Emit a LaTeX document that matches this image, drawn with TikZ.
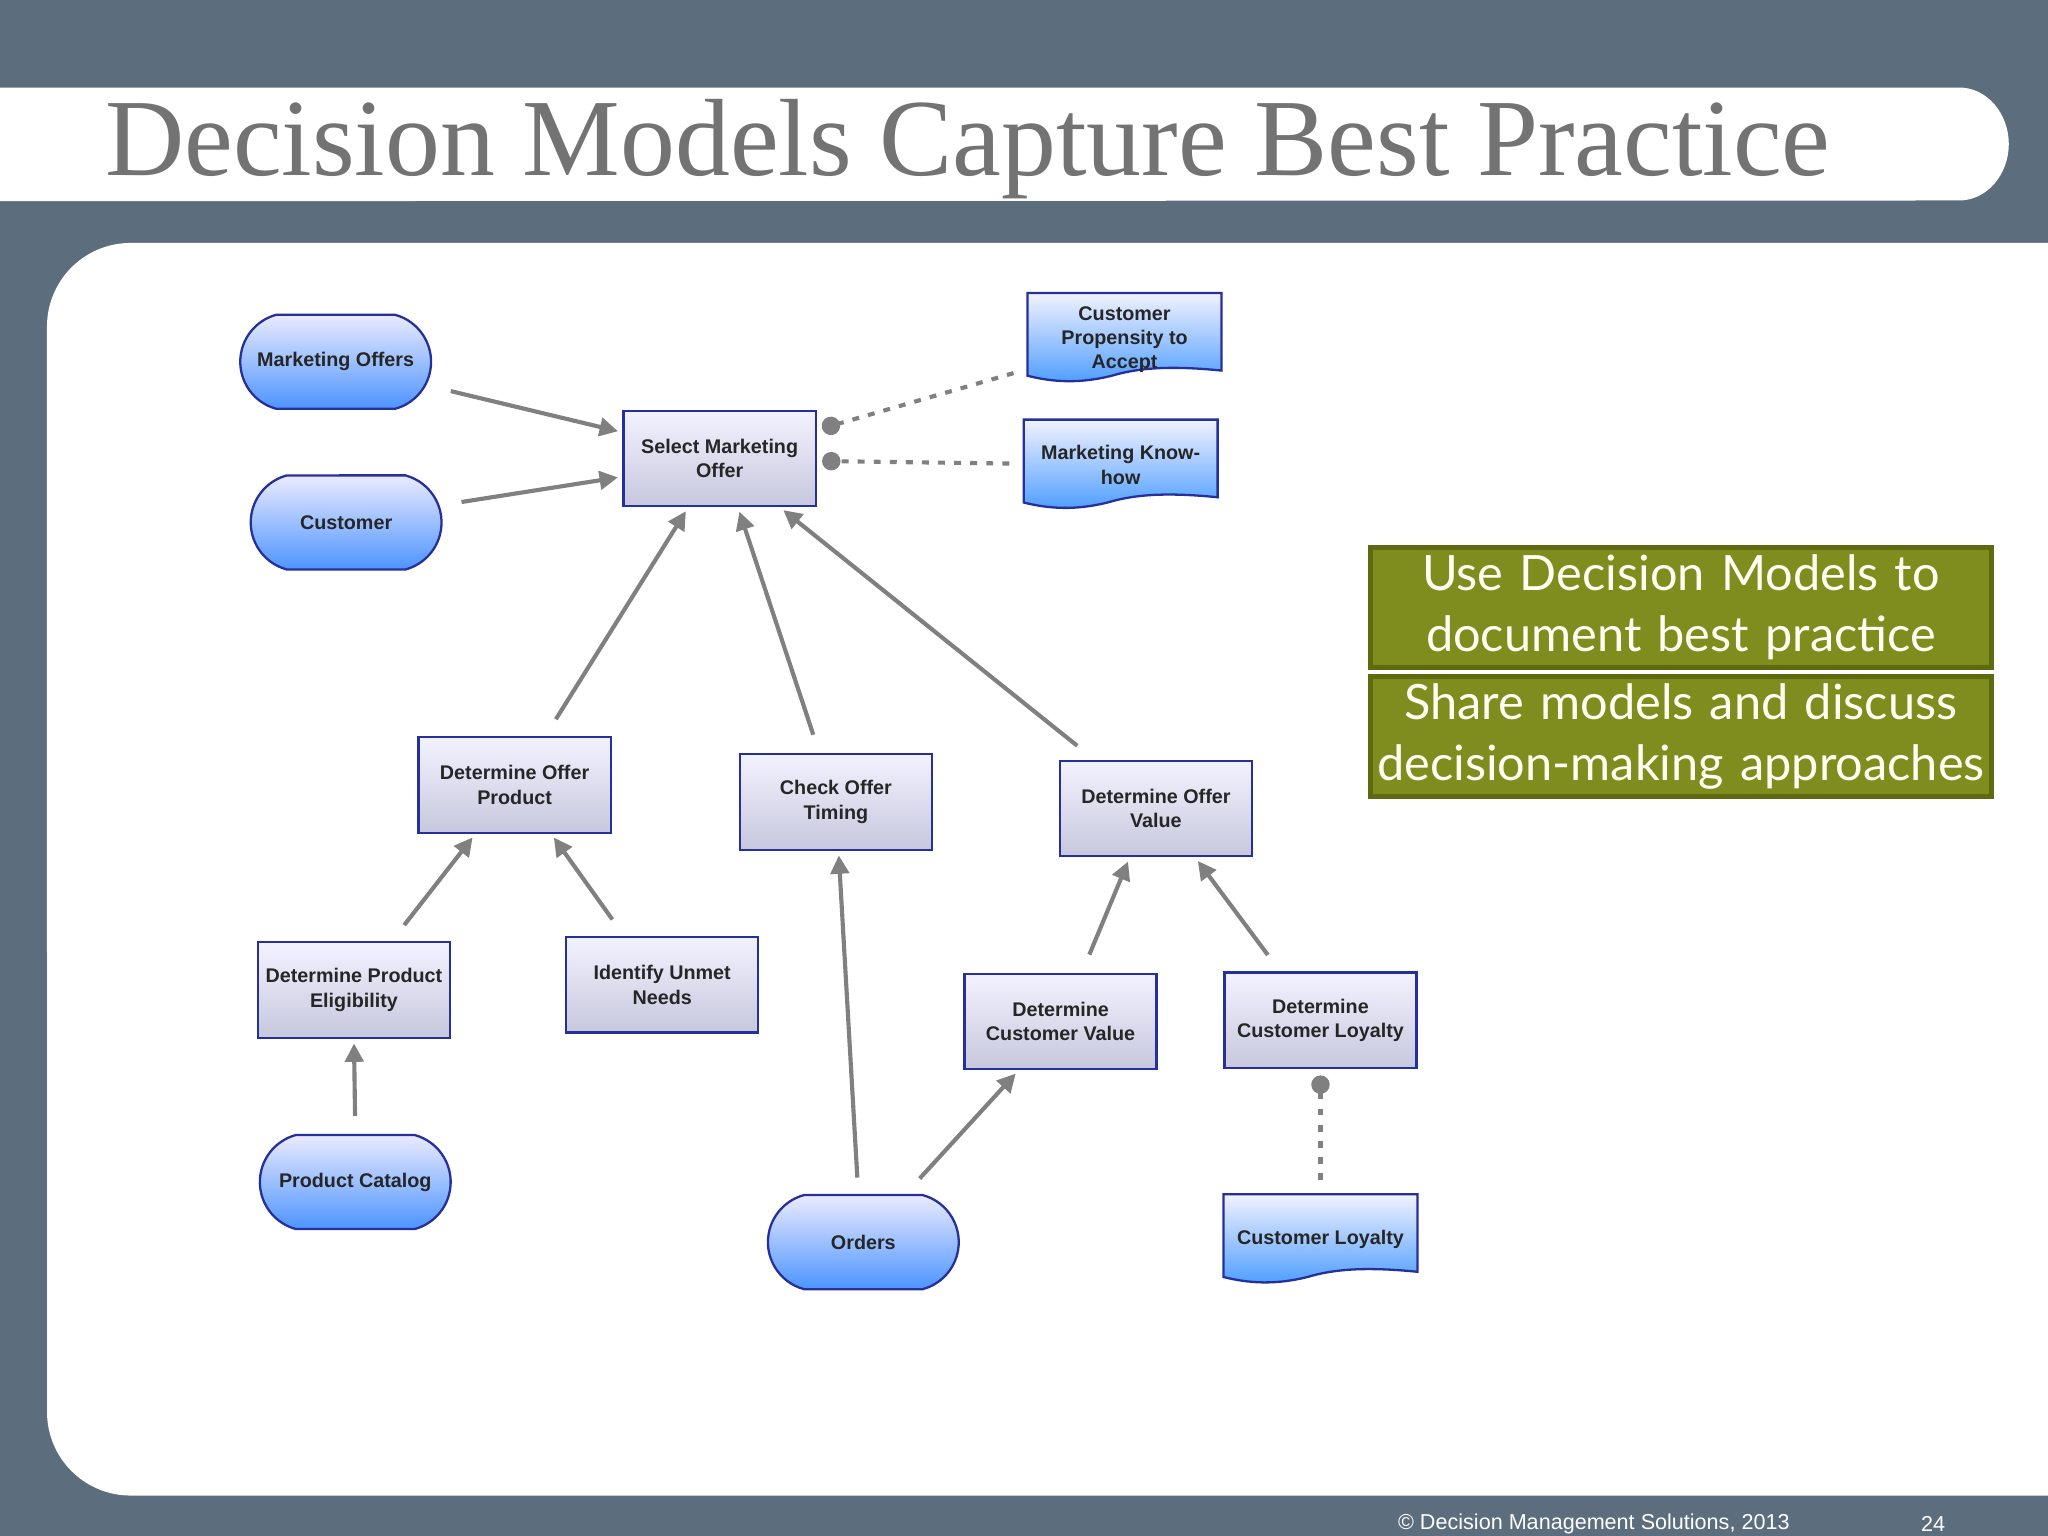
\documentclass[tikz,border=0pt]{standalone}
\usepackage{fontspec}
\setmainfont{Liberation Sans}
\newfontfamily\titlefont{Liberation Serif}
\newfontfamily\boxfont{Lato}
\usetikzlibrary{shapes.misc,arrows.meta,calc}
\definecolor{slate}{HTML}{5C6E7E}
\definecolor{olive}{HTML}{7F8C1E}
\definecolor{olivedk}{HTML}{5E6A10}
\definecolor{nodeborder}{HTML}{26309A}
\definecolor{arrowgray}{HTML}{808080}
\tikzset{
 x=0.01cm,y=-0.01cm,
 lbl/.style={font=\bfseries\fontsize{4.3pt}{5.3pt}\selectfont,align=center,text=black!85},
 dataobj/.style={lbl,rounded rectangle,draw=nodeborder,line width=0.5pt,top color=blue!8,bottom color=blue!60!cyan!70!white,minimum width=1.46cm,minimum height=0.72cm,inner xsep=0pt,rounded rectangle arc length=150},
 decision/.style={lbl,rectangle,draw=nodeborder,line width=0.5pt,top color=white!95!blue,bottom color=blue!25!gray!35,minimum width=1.47cm,minimum height=0.73cm,inner xsep=0pt},
 knowbox/.style={lbl,rectangle,minimum width=1.47cm,minimum height=0.62cm,inner sep=0pt},
 dep/.style={draw=arrowgray,line width=0.9pt,-{Triangle[length=4pt,width=4pt]},shorten <=3pt,shorten >=1pt},
 kdep/.style={draw=arrowgray,line width=0.9pt,dash pattern=on 1.5pt off 2pt,-{Circle[length=4pt]},shorten <=2pt},
 greenbox/.style={draw=olivedk,line width=1pt,fill=olive,text=white!95!yellow,font=\boxfont\fontsize{10.6pt}{13.4pt}\selectfont,align=center,minimum width=4.75cm,text width=4.7cm,minimum height=0.92cm,inner sep=0pt}
}
\newcommand{\kshape}[1]{%
 \draw[nodeborder,line width=0.5pt,top color=blue!5,bottom color=blue!55!cyan!70!white]
 (#1.north west) -- (#1.north east) -- ($(#1.south east)+(0,-4)$)
 .. controls ($(#1.south east)+(-40,-8)$) and ($(#1.south)+(10,-6)$) .. ($(#1.south)+(-10,0)$)
 .. controls ($(#1.south west)+(40,6)$) and ($(#1.south west)+(20,5)$) .. ($(#1.south west)+(0,0)$) -- cycle;}
\begin{document}
\begin{tikzpicture}
\useasboundingbox (0,0) rectangle (1568,1176);
\fill[slate] (0,0) rectangle (1568,1176);
\fill[white] (0,67) -- (1500,67) arc[start angle=90,end angle=0,x radius=38,y radius=-43.5] -- (1538,110) arc[start angle=0,end angle=-90,x radius=38,y radius=-43.5] -- (0,154) -- cycle;
\node[anchor=west,text=gray!90!black,font=\titlefont\fontsize{23.9pt}{26pt}\selectfont] (title) at (68,114) {Decision Models Capture Best Practice};
\fill[white] (1568,186) -- (100,186) arc[start angle=90,end angle=180,radius=0.64cm] -- (36,1081) arc[start angle=180,end angle=270,radius=0.64cm] -- (1568,1145) -- cycle;
\node[anchor=west,text=white,font=\fontsize{4.7pt}{5pt}\selectfont] (foot) at (1058,1167) {\textcopyright{} Decision Management Solutions, 2013};
\node[text=white,font=\fontsize{4.7pt}{5pt}\selectfont] (pg) at (1480,1167) {24};

\node[greenbox] (g1) at (1287,465) {Use Decision Models to\\document best practice};
\node[greenbox] (g2) at (1287,564) {Share models and discuss\\decision-making approaches};

% knowledge sources
\node[knowbox] (cpa) at (861,256) {};
\node[knowbox] (mkh) at (858,353) {};
\node[knowbox] (cl) at (1011,946) {};
\kshape{cpa}\kshape{mkh}\kshape{cl}
\node[lbl] at ($(cpa)+(0,4)$) {Customer\\Propensity to\\Accept};
\node[lbl] at ($(mkh)+(0,3)$) {Marketing Know-\\how};
\node[lbl] at ($(cl)+(0,3)$) {Customer Loyalty};

\node[dataobj] (mo) at (257,277) {Marketing Offers};
\node[dataobj] (cu) at (265,400) {Customer};
\node[dataobj] (pc) at (272,905) {Product Catalog};
\node[dataobj] (or) at (661,951) {Orders};

\node[decision] (smo) at (551,351) {Select Marketing\\Offer};
\node[decision] (dop) at (394,601) {Determine Offer\\Product};
\node[decision] (cot) at (640,614) {Check Offer\\Timing};
\node[decision] (dov) at (885,619) {Determine Offer\\Value};
\node[decision] (dpe) at (271,758) {Determine Product\\Eligibility};
\node[decision] (ium) at (507,754) {Identify Unmet\\Needs};
\node[decision] (dcv) at (812,782) {Determine\\Customer Value};
\node[decision] (dcl) at (1011,781) {Determine\\Customer Loyalty};

\draw[dep] (mo.east) ++(4,20) coordinate (a1) (a1) -- (smo.west |- 0,331);
\draw[dep] (cu.east) ++(4,-14) coordinate (a2) (a2) -- (smo.west |- 0,365);
\draw[dep] ($(dop.north)+(26,-4)$) coordinate (a3) (a3) -- ($(smo.south)+(-24,0)$);
\draw[dep] ($(cot.north)+(-14,-4)$) coordinate (a4) (a4) -- ($(smo.south)+(14,0)$);
\draw[dep] ($(dov.north)+(-52,-4)$) coordinate (a5) (a5) -- ($(smo.south)+(46,0)$);
\draw[dep] ($(dpe.north)+(32,-4)$) coordinate (a6) (a6) -- ($(dop.south)+(-30,0)$);
\draw[dep] ($(ium.north)+(-32,-4)$) coordinate (a7) (a7) -- ($(dop.south)+(28,0)$);
\draw[dep] ($(pc.north)+(0,-3)$) coordinate (a8) (a8) -- (dpe.south);
\draw[dep] ($(or.north)+(-4,-2)$) coordinate (a9) (a9) -- ($(cot.south)+(2,0)$);
\draw[dep] ($(or.north)+(36,-4)$) coordinate (a10) (a10) -- ($(dcv.south)+(-32,0)$);
\draw[dep] ($(dcv.north)+(18,-4)$) coordinate (a11) (a11) -- ($(dov.south)+(-20,0)$);
\draw[dep] ($(dcl.north)+(-34,-4)$) coordinate (a12) (a12) -- ($(dov.south)+(30,0)$);
\draw[kdep] ($(cpa.south west)+(-4,-4)$) coordinate (k1) (k1) -- ($(smo.east)+(4,-23)$);
\draw[kdep] ($(mkh.west)+(-4,2)$) coordinate (k2) (k2) -- ($(smo.east)+(4,2)$);
\draw[kdep] ($(cl.north)+(0,-4)$) coordinate (k3) (k3) -- ($(dcl.south)+(0,5)$);
\end{tikzpicture}
\end{document}
